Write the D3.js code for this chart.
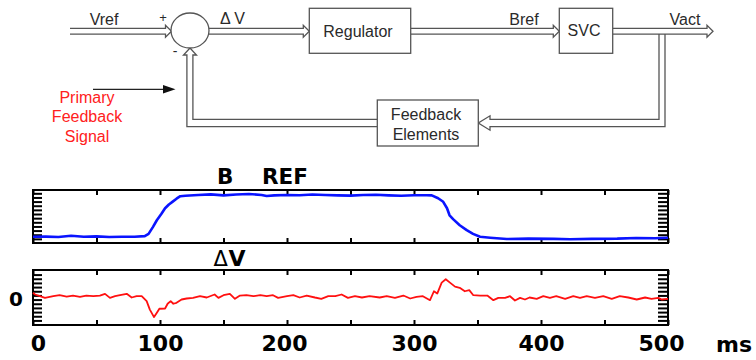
<!DOCTYPE html>
<html><head><meta charset="utf-8">
<script src="https://cdn.jsdelivr.net/npm/d3@7"></script>
<style>body{margin:0;background:#fff}svg{display:block}</style>
</head><body>
<svg id="c" width="756" height="360"></svg>
<script>
// ---------- data ----------
const timeTicks = [0,50,100,150,200,250,300,350,400,450,500];
const timeLabelValues = [0,100,200,300,400,500];
const timeUnit = "ms";
const brefTitle = ["B", "REF"];
const dvTitle = ["Δ", "V"];
const brefTime = [0,10,20,30,40,50,60,70,80,88,91,94.5,97.5,101,104,107,110,113,116,120,130,140,150,160,170,180,184,190,200,210,220,230,240,250,260,270,280,290,300,310,314,319,323,326,328,331,336,341.5,346.5,352,360,373,390,410,423,440,460,475,490,500];
const brefValue = [1.5,1.55,1.45,1.75,1.5,1.6,1.45,1.5,1.5,1.65,2.2,3.9,5.5,7.0,8.4,9.3,10.0,10.7,11.3,11.4,11.6,11.75,11.5,11.7,11.85,11.6,11.35,11.5,11.6,11.55,11.7,11.6,11.5,11.45,11.6,11.65,11.5,11.4,11.55,11.55,11.5,10.8,9.95,8.4,6.7,5.7,4.3,3.1,2.2,1.5,1.28,0.96,1.05,1.0,0.9,1.0,1.05,1.2,1.15,1.28];
const dvTime = [0,1.6,5.5,9.4,16,21,26.5,31.5,37,42,47.5,52.7,56.7,60.6,64.6,68.5,73.8,77.7,81.6,85.6,89.5,92,95.3,97.4,99.5,104,106,108.4,110.5,113,117,121,126,131.5,136.8,143,146,150,155,159,163,168,173.5,179,184,189,193,200,205,210,215.5,222,227,232.5,238,243,248,253.5,259,265,273,278.5,285,291.6,297,302,307,312.6,315.7,318.3,321.8,325,328.3,332.3,336,340,343.5,346.7,352,357.7,362.5,366.4,371.7,375.6,379.5,383.5,387.4,391,396.6,401.8,407,412,419,425.4,430.7,436,442.5,449,455.7,462,468.7,475.4,482,487,492.4,495,500];
const dvValue = [1.13,0.72,0.31,-0.08,0.31,0.55,0.23,0.47,0.15,0.47,
  0.31,0.47,0.88,-0.08,0.31,0.55,0.88,0.0,0.31,0.31,
  -0.88,-2.9,-4.7,-3.7,-2.7,-2.65,-1.5,-0.88,-1.5,-1.28,
  -0.48,-0.24,-0.08,0.31,0.0,0.72,-0.08,0.55,0.88,-0.32,
  0.47,0.55,0.31,0.55,0.31,0.55,-0.08,0.31,0.55,0.0,
  0.47,0.0,-0.32,0.31,0.31,0.72,-0.08,0.31,0.0,0.31,
  0.0,0.31,-0.08,0.47,-0.24,0.15,0.31,-0.64,1.5,0.95,
  3.56,4.37,3.56,2.6,2.33,1.5,1.76,0.55,0.47,0.47,
  -0.64,-0.08,-0.08,0.31,-0.72,-0.08,-0.48,0.0,-0.32,0.31,
  -0.08,0.31,-0.32,0.31,-0.08,0.31,-0.08,0.31,-0.32,0.31,
  0.0,-0.48,0.0,-0.32,-0.08,-0.48,-0.32];
const brefYTicks = [1,2,3,4,5,6,7,8,9,10,11,12];
const dvYTicks = [-5.5,-4.5,-3.5,-2.5,-1.5,-0.5,0.5,1.5,2.5,3.5,4.5,5.5];
const dvYLabelValues = [0];
// diagram texts
const blockLabels = ["Regulator", "SVC"];
const feedbackBlockLabel = ["Feedback", "Elements"];
const signalLabels = {vref: "Vref", dv: "Δ V", bref: "Bref", vact: "Vact"};
const primaryLabel = ["Primary", "Feedback", "Signal"];

// ---------- setup ----------
const svg = d3.select("#c");
const BOLD = "'DejaVu Sans', sans-serif";
const SANS = "'Liberation Sans', Arial, sans-serif";
const LINE = "#555";
const TXT = "#2a2a2a";

// ---------- block diagram ----------
const dg = svg.append("g");
function arrowRight(x0, x1, yc) {
  const h = 2.9, head = 6, w = 3;
  return `M${x0},${yc-h}L${x1-head},${yc-h}L${x1-head},${yc-h-w}L${x1},${yc}L${x1-head},${yc+h+w}L${x1-head},${yc+h}L${x0},${yc+h}`;
}
const yc = 31.2;
[[70,171.5],[209,309.3],[410.7,559.3],[612.7,713]].forEach(([a,b]) => {
  dg.append("path").attr("d", arrowRight(a,b,yc)).attr("fill","#fff").attr("stroke",LINE).attr("stroke-width",1.3);
});
// branch to feedback
dg.append("path")
  .attr("d","M659,34.1L659,119.3L490,119.3L490,115.8L478.3,123L490,130.2L490,126.7L665,126.7L665,34.1")
  .attr("fill","none").attr("stroke",LINE).attr("stroke-width",1.3);
// return to summing junction
dg.append("path")
  .attr("d","M377.3,119.3L192.9,119.3L192.9,55L196.5,55L190,48L183.5,55L186.9,55L186.9,126.7L377.3,126.7")
  .attr("fill","none").attr("stroke",LINE).attr("stroke-width",1.3);
// summing junction
dg.append("ellipse").attr("cx",190).attr("cy",30.5).attr("rx",19).attr("ry",17.5)
  .attr("fill","#fff").attr("stroke",LINE).attr("stroke-width",1.3);
// blocks
const blocks = [
  {x:309.3, y:8.3, w:101.4, h:45, lines:[blockLabels[0]], cx:358, by:[37]},
  {x:559.3, y:8.3, w:53.4, h:45, lines:[blockLabels[1]], cx:584, by:[36]},
  {x:377.3, y:100, w:101, h:46, lines:feedbackBlockLabel, cx:426, by:[120,140]}
];
blocks.forEach(b => {
  dg.append("rect").attr("x",b.x).attr("y",b.y).attr("width",b.w).attr("height",b.h)
    .attr("fill","#fff").attr("stroke",LINE).attr("stroke-width",1.3);
  b.lines.forEach((t,i) => dg.append("text").attr("x",b.cx).attr("y",b.by[i]).attr("text-anchor","middle")
    .attr("font-family",SANS).attr("font-size",16).attr("fill",TXT).text(t));
});
const sigText = [[signalLabels.vref,104,25],[signalLabels.bref,524,25],[signalLabels.vact,685,25]];
sigText.forEach(([t,x,y]) => dg.append("text").attr("x",x).attr("y",y).attr("text-anchor","middle")
  .attr("font-family",SANS).attr("font-size",16).attr("fill",TXT).text(t));
dg.append("text").attr("x",220).attr("y",23.5).attr("font-family",SANS).attr("font-size",16).attr("fill",TXT).text(signalLabels.dv);
dg.append("text").attr("x",163).attr("y",22).attr("text-anchor","middle").attr("font-family",SANS).attr("font-size",13).attr("fill",TXT).text("+");
dg.append("text").attr("x",175).attr("y",56).attr("text-anchor","middle").attr("font-family",SANS).attr("font-size",14).attr("fill",TXT).text("-");
// primary feedback signal
dg.append("line").attr("x1",93).attr("x2",164).attr("y1",89.3).attr("y2",89.3).attr("stroke","#222").attr("stroke-width",1.2);
dg.append("path").attr("d","M163,85L175.5,89.3L163,93.6Z").attr("fill","#111");
primaryLabel.forEach((t,i) => dg.append("text").attr("x",87).attr("y",[103,122,141.5][i]).attr("text-anchor","middle")
  .attr("font-family",SANS).attr("font-size",16).attr("fill","#ff2020").text(t));

// ---------- charts ----------
const X0 = 33, X1 = 668;
const x = d3.scaleLinear().domain([0,500]).range([X0,X1]);
const yB = d3.scaleLinear().domain([0,12.8]).range([243,190]);
const yD = d3.scaleLinear().domain([-6.6,6.6]).range([325,270]);

function frame(y, yTicks) {
  const [bot, top] = y.range();
  const g = svg.append("g");
  const style = sel => { sel.select(".domain").remove(); sel.selectAll(".tick line").attr("stroke","#000").attr("stroke-width",2); sel.selectAll("text").remove(); };
  g.append("g").attr("transform",`translate(0,${top})`).call(d3.axisTop(x).tickValues(timeTicks).tickSize(-5)).call(style);
  g.append("g").attr("transform",`translate(0,${bot})`).call(d3.axisBottom(x).tickValues(timeTicks).tickSize(-5)).call(style);
  g.append("g").attr("transform",`translate(${X0},0)`).call(d3.axisLeft(y).tickValues(yTicks).tickSize(-9)).call(style);
  g.append("g").attr("transform",`translate(${X1},0)`).call(d3.axisRight(y).tickValues(yTicks).tickSize(-10)).call(style);
  g.append("rect").attr("x",X0).attr("y",top).attr("width",X1-X0).attr("height",bot-top)
    .attr("fill","none").attr("stroke","#000").attr("stroke-width",2);
  return g;
}
const gB = frame(yB, brefYTicks);
const gD = frame(yD, dvYTicks);

const lineB = d3.line().x((d,i)=>x(brefTime[i])).y(d=>yB(d));
svg.append("path").attr("d", lineB(brefValue)).attr("fill","none").attr("stroke","#0a14ff").attr("stroke-width",2.6).attr("stroke-linejoin","round");
const lineD = d3.line().x((d,i)=>x(dvTime[i])).y(d=>yD(d));
svg.append("path").attr("d", lineD(dvValue)).attr("fill","none").attr("stroke","#ff1010").attr("stroke-width",1.8).attr("stroke-linejoin","round");

// titles
svg.append("text").attr("x",217).attr("y",184).attr("font-family",BOLD).attr("font-weight","bold").attr("font-size",21.5).attr("fill","#000").text(brefTitle[0]);
svg.append("text").attr("x",262).attr("y",184).attr("font-family",BOLD).attr("font-weight","bold").attr("font-size",21.5).attr("fill","#000").text(brefTitle[1]);
const dvt = svg.append("text").attr("x",213.5).attr("y",266).attr("fill","#000");
dvt.append("tspan").attr("font-family",BOLD).attr("font-size",21).text(dvTitle[0]);
dvt.append("tspan").attr("font-family",BOLD).attr("font-weight","bold").attr("font-size",22).attr("dx",0.5).text(dvTitle[1]);

// x tick labels
const xl = svg.append("g").attr("transform","translate(0,325)")
  .call(d3.axisBottom(x).tickValues(timeLabelValues).tickSize(0).tickPadding(10).tickFormat(d3.format("d")));
xl.select(".domain").remove();
xl.selectAll("text").attr("font-family",BOLD).attr("font-weight","bold").attr("font-size",22).attr("fill","#000")
  .attr("dy","0.71em").attr("dx", d => d===0 ? 5 : d===500 ? -7 : d===200 ? -3 : 0);
svg.append("text").attr("x",716).attr("y",352).attr("font-family",BOLD).attr("font-weight","bold").attr("font-size",22).text(timeUnit);
// y label on ΔV
dvYLabelValues.forEach(v => svg.append("text").attr("x",16).attr("y",yD(v)).attr("dy","0.42em").attr("text-anchor","middle")
  .attr("font-family",BOLD).attr("font-weight","bold").attr("font-size",20).text(String(v)));
</script>
</body></html>
